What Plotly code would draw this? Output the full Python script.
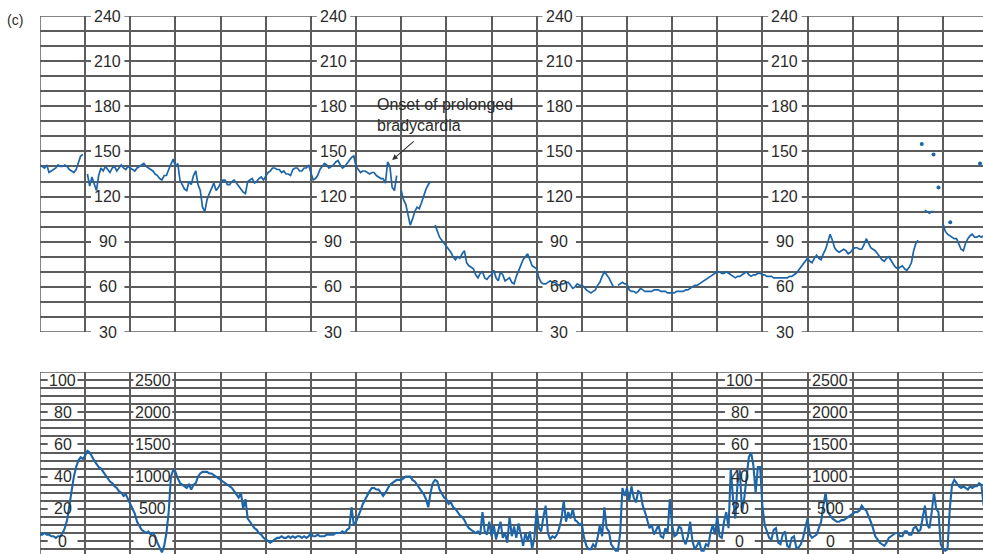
import numpy as np
import plotly.graph_objects as go

# ---- data -----------------------------------------------------------------
# fetal heart rate (bpm), one sample every 0.05 min; None = signal loss
t_fhr = np.round(np.arange(0, 420) * 0.05, 2)
fhr = [
    141, 140, 139, 141, 136, 137, 138, 139, 141, 140, 140, 141, 140, 138, 137, 136, 138, 142, 147, 148,
    None, 135, 127, 133, 128, 124, 134, 139, 137, 140, 138, 136, 139, 140, 137, 139, 141, 139, 138, 140,
    139, 138, 137, 139, 140, 141, 142, 140, 139, 138, 137, 135, 134, 132, 131, 134, 134, 138, 141, 145,
    140, 142, 131, 128, 125, 124, 130, 128, 134, 137, 128, 124, 113, 110, 118, 122, 126, 129, 124, 126,
    129, 131, 131, 128, 128, 130, 131, 129, 127, 125, 123, 122, 130, 131, 132, 129, 130, 132, 133, 131,
    134, 136, 137, 139, 139, 138, 138, 136, 137, 135, 135, 134, 138, 139, 139, 137, 137, 139, 139, 141,
    136, 131, 132, 134, 138, 140, 142, 141, 139, 140, 141, 143, 144, 141, 139, 140, 142, 144, 146, 147,
    140, 138, 136, 137, 137, 136, 135, 136, 136, 134, 133, 132, 132, 129, 143, 140, 126, 124, 134, None,
    124, 118, 115, 108, 101, 105, 110, 113, 112, 116, 121, 125, 128, 130, None, 101, 97, 93, 91, 89,
    87, 85, 83, 80, 78, 80, 79, 82, 84, 76, 74, 73, 72, 68, 66, 69, 70, 66, 65, 67,
    68, 71, 66, 64, 70, 68, 64, 65, 66, 63, 62, 67, 71, 75, 78, 80, 82, 78, 74, 73,
    72, 66, 63, 62, 62, 63, 64, 63, 63, 62, 61, 62, 62, 63, 63, 61, 59, 60, 62, 61,
    61, 60, 58, 57, 56, 57, 58, 61, 63, 67, 70, 68, 66, 63, 60, None, 61, 62, 63, 62,
    62, 58, 57, 57, 56, 57, 59, 58, 57, 57, 57, 57, 58, 58, 58, 57, 57, 57, 56, 56,
    56, 56, 57, 57, 57, 57, 58, 58, 59, 60, 61, 61, 62, 63, 64, 65, 66, 67, 68, 69,
    70, 70, 69, 69, 70, 69, 68, 67, 66, 67, 67, 68, 69, 70, 68, 67, 68, 68, 69, 69,
    68, 68, 67, 67, 67, 66, 66, 66, 66, 66, 66, 66, 67, 67, 68, 69, 71, 73, 75, 77,
    79, 77, 76, 79, 81, 79, 78, 82, 85, 90, 95, 91, 86, 84, 83, 84, 85, 84, 82, 83,
    85, 86, 86, 85, 85, 88, 92, 89, 86, 85, 84, 82, 80, 78, 77, 79, 80, 77, 75, 73,
    72, 73, 74, 72, 71, 73, 76, 84, 89, 91, None, None, 111, 110, 109, 110, 110, None, None, None,
    102, 97, 95, 94, 93, 92, 92, 88, 85, 84, 89, 92, 94, 95, 93, 93, 94, 93, 94, 94,
]

# isolated heart-rate points
fhr_dot_t = [19.53, 19.79, 19.9, 20.16, 20.82]
fhr_dot_v = [155, 148, 126, 103, 142]

# uterine activity on the 0-100 grid scale, one sample every 0.05 min
t_ua = np.round(np.arange(0, 419) * 0.05, 2)
ua = [
    4, 4, 5, 4, 4, 3, 3, 2, 3, 3, 5, 8, 13, 22, 32, 40, 46, 50, 52, 51,
    53, 56, 55, 52, 50, 48, 46, 45, 43, 41, 39, 37, 36, 34, 33, 31, 30, 28, 29, 26,
    24, 21, 17, 12, 9, 7, 6, 5, 6, 4, 5, 3, -1, -4, -7, -3, 5, 18, 40, 44,
    43, 39, 36, 35, 34, 33, 35, 32, 35, 36, 40, 42, 43, 43, 43, 42, 42, 41, 40, 39,
    38, 37, 36, 35, 34, 33, 31, 29, 27, 30, 20, 26, 14, 12, 10, 8, 7, 5, 4, 2,
    1, 0, -1, 0, 1, 2, 2, 3, 2, 2, 3, 2, 3, 2, 3, 3, 2, 3, 2, 3,
    5, 3, 3, 4, 3, 3, 3, 4, 4, 4, 4, 5, 5, 5, 6, 5, 7, 8, 21, 10,
    12, 15, 19, 23, 26, 29, 31, 33, 33, 32, 32, 30, 28, 30, 33, 35, 36, 37, 38, 38,
    38, 39, 40, 40, 40, 38, 37, 35, 33, 31, 29, 26, 21, 30, 36, 38, 37, 32, 29, 27,
    26, 23, 24, 21, 20, 18, 16, 15, 13, 10, 8, 7, 6, 5, 6, 4, 18, 6, 4, 12,
    3, 10, 1, 6, 12, 2, 5, -1, 15, 3, 9, 2, 11, 4, -3, 5, 0, 6, -5, 2,
    20, 8, 6, 15, 22, 5, 1, 3, 2, 4, 8, 14, 25, 12, 18, 14, 20, 13, 12, 10,
    11, 2, -3, -5, -5, -2, -4, 2, 10, 3, 21, 8, 6, -2, -4, -6, -6, 5, 33, 28,
    33, 25, 34, 27, 24, 31, 30, 22, 18, 12, 8, 10, 4, 7, 10, 3, 2, 8, 5, 26,
    10, 3, 4, 9, 8, 1, -2, 3, 12, 0, -5, -3, 0, -6, -6, -2, -3, 5, 10, 4,
    16, 3, 2, 12, 18, 8, 45, 26, 14, 36, 44, 18, 27, 40, 52, 55, 47, 30, 46, 46,
    22, 10, 6, 2, 1, 7, 8, -1, -2, 4, 6, -3, -4, 2, 3, -4, -4, -2, 2, 8,
    14, 4, 2, 3, 4, 8, 12, 22, 30, 18, 16, 14, 13, 12, 12, 13, 13, 14, 15, 16,
    17, 18, 18, 19, 22, 20, 19, 16, 12, 8, 3, 1, -1, -2, -3, -1, 2, 3, 4, 5,
    5, 3, 3, 6, 6, 4, 4, 8, 9, 6, 7, 14, 22, 10, 8, 18, 30, 20, 18, -2,
    -5, -6, -5, 20, 35, 38, 36, 34, 33, 34, 33, 32, 34, 33, 34, 34, 36, 35, 22,
]

# scale labels
fhr_labels = [240, 210, 180, 150, 120, 90, 60, 30]
fhr_label_cols = [1.5, 6.5, 11.5, 16.5]
ua_levels = [100, 80, 60, 40, 20, 0]
ua_labels_a = ["100", "80", "60", "40", "20", "0"]
ua_labels_b = ["2500", "2000", "1500", "1000", "500", "0"]
ua_cols_a = [0.5, 15.5]
ua_cols_b = [2.5, 17.5]

# ---- styling --------------------------------------------------------------
BLUE = "#1e65a8"
GRID = "#5c5c5c"
TXT = "#2b2b2b"
FONT = "Liberation Sans, Arial, sans-serif"
X_MAX = 20.886
TOP_RANGE = [30, 240]
BOT_RANGE = [-8.04, 105]
GW = 1.5

fig = go.Figure()

fig.add_trace(go.Scatter(x=t_fhr, y=fhr, mode="lines", connectgaps=False,
                         line=dict(color=BLUE, width=1.7),
                         xaxis="x", yaxis="y", hoverinfo="skip"))
fig.add_trace(go.Scatter(x=fhr_dot_t, y=fhr_dot_v, mode="markers",
                         marker=dict(color=BLUE, size=4),
                         xaxis="x", yaxis="y", hoverinfo="skip"))
fig.add_trace(go.Scatter(x=t_ua, y=ua, mode="lines",
                         line=dict(color=BLUE, width=2.1),
                         xaxis="x2", yaxis="y2", hoverinfo="skip"))

axis_common = dict(showgrid=True, gridcolor=GRID, gridwidth=GW,
                   showticklabels=False, ticks="", zeroline=False,
                   showline=False, fixedrange=True)

fig.update_layout(
    width=983, height=554,
    margin=dict(l=40, r=0, t=0, b=0),
    paper_bgcolor="white", plot_bgcolor="white",
    showlegend=False,
    font=dict(family=FONT, color=TXT),
    xaxis=dict(domain=[0, 1], range=[0, X_MAX], tick0=0, dtick=1,
               anchor="y", **axis_common),
    yaxis=dict(domain=[0.4007, 0.9711], range=TOP_RANGE, tick0=0, dtick=10,
               anchor="x", **axis_common),
    xaxis2=dict(domain=[0, 1], range=[0, X_MAX], tick0=0, dtick=1,
                anchor="y2", **axis_common),
    yaxis2=dict(domain=[0, 0.3285], range=BOT_RANGE, tick0=0, dtick=5,
                anchor="x2", **axis_common),
)

shapes = []
line_style = dict(color=GRID, width=GW)
# panel borders
for xr, yr, (y0, y1) in (("x", "y", TOP_RANGE), ("x2", "y2", BOT_RANGE)):
    shapes.append(dict(type="line", xref=xr, yref=yr, x0=0, x1=0, y0=y0, y1=y1,
                       line=line_style, layer="below"))
    shapes.append(dict(type="line", xref=xr, yref=yr, x0=0, x1=X_MAX, y0=y1, y1=y1,
                       line=line_style, layer="below"))
shapes.append(dict(type="line", xref="x", yref="y", x0=0, x1=X_MAX, y0=30, y1=30,
                   line=line_style, layer="below"))

annotations = []
# heart-rate scale labels, each one breaking its grid line
for c in fhr_label_cols:
    for v in fhr_labels:
        shapes.append(dict(type="rect", xref="x", yref="y",
                           x0=c - 0.37, x1=c + 0.37, y0=v - 3.5, y1=v + 3.5,
                           fillcolor="white", line=dict(width=0), layer="between"))
        annotations.append(dict(x=c, y=v, xref="x", yref="y", text=str(v),
                                showarrow=False, xanchor="center", yanchor="middle",
                                font=dict(size=16, color=TXT, family=FONT)))

# uterine activity scale labels
for cols, labels, half in ((ua_cols_a, ua_labels_a, 0.33), (ua_cols_b, ua_labels_b, 0.43)):
    for c in cols:
        for v, s in zip(ua_levels, labels):
            shapes.append(dict(type="rect", xref="x2", yref="y2",
                               x0=c - half, x1=c + half, y0=v - 2.4, y1=v + 2.4,
                               fillcolor="white", line=dict(width=0), layer="between"))
            annotations.append(dict(x=c, y=v, xref="x2", yref="y2", text=s,
                                    showarrow=False, xanchor="center", yanchor="middle",
                                    font=dict(size=16, color=TXT, family=FONT)))

# panel tag
annotations.append(dict(x=-0.027, y=0.963, xref="paper", yref="paper", text="(c)",
                        showarrow=False, xanchor="center", yanchor="middle",
                        font=dict(size=14, color=TXT, family=FONT)))

# event note and arrow
annotations.append(dict(x=7.42, y=174.2, xref="x", yref="y",
                        text="Onset of prolonged<br>bradycardia", align="left",
                        showarrow=False, xanchor="left", yanchor="middle",
                        font=dict(size=16, color=TXT, family=FONT)))
annotations.append(dict(x=7.80, y=144.3, xref="x", yref="y", text="",
                        showarrow=True, ax=23, ay=-20, axref="pixel", ayref="pixel",
                        arrowhead=2, arrowsize=1, arrowwidth=1.1, arrowcolor="#333333"))

fig.update_layout(shapes=shapes, annotations=annotations)

fig.write_html("out.html")
